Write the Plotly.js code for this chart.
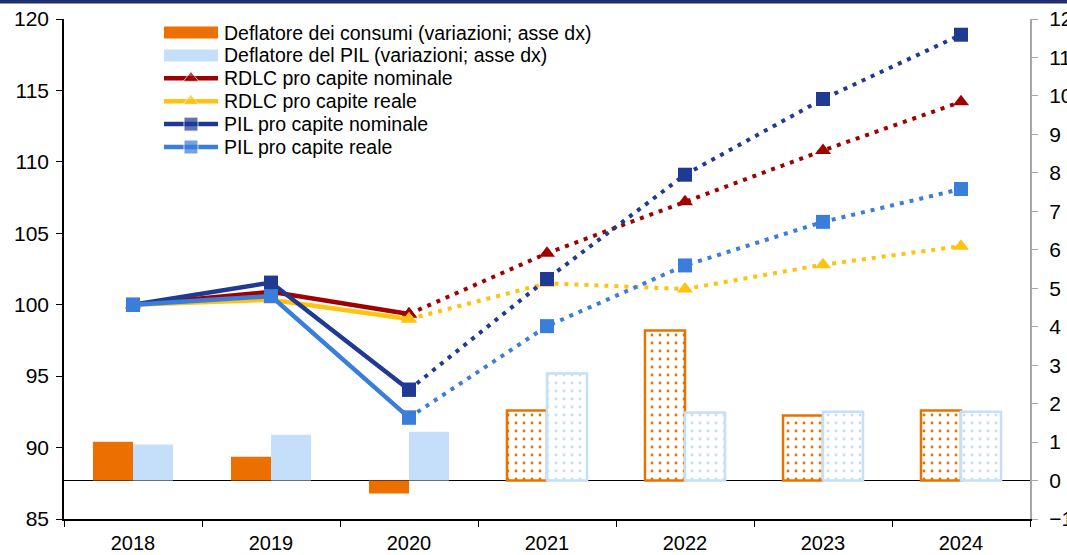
<!DOCTYPE html>
<html>
<head>
<meta charset="utf-8">
<script src="https://cdn.plot.ly/plotly-3.0.1.min.js"></script>
<style>
  body { margin: 0; background: #fff; }
  #myDiv { width: 1067px; height: 555px; }
</style>
</head>
<body>
<div id="myDiv"></div>
<script>
var anni = ['2018', '2019', '2020', '2021', '2022', '2023', '2024'];

// variazioni percentuali (asse dx)
var deflConsumi = [1.01, 0.62, -0.34, 1.82, 3.90, 1.69, 1.82];
var deflPil = [0.94, 1.19, 1.27, 2.78, 1.77, 1.79, 1.79];

// indici 2018=100 (asse sx)
var rdlcNominale = [100, 100.9, 99.35, 103.6, 107.2, 110.8, 114.2];
var rdlcReale = [100, 100.35, 99.0, 101.5, 101.1, 102.8, 104.1];
var pilNominale = [100, 101.55, 94.05, 101.8, 109.1, 114.4, 118.9];
var pilReale = [100, 100.6, 92.1, 98.5, 102.75, 105.8, 108.1];

var nomi = [
  'Deflatore dei consumi (variazioni; asse dx)',
  'Deflatore del PIL (variazioni; asse dx)',
  'RDLC pro capite nominale',
  'RDLC pro capite reale',
  'PIL pro capite nominale',
  'PIL pro capite reale'
];
var colori = ['#EC7000', '#C5DFFA', '#A00000', '#FFC20E', '#1F3A93', '#3A7DDB'];
var simboli = ['', '', 'triangle-up', 'triangle-up', 'square', 'square'];

var nStorico = 3; // 2018-2020 storico, poi previsioni

function barTrace(k, vals){
  var col = colori[k];
  var shapes = [], widths = [];
  for (var i = 0; i < vals.length; i++){
    shapes.push(i < nStorico ? '' : '.');
    widths.push(i < nStorico ? 0 : 2.5);
  }
  return {
    x: anni, y: vals, name: nomi[k], type: 'bar', yaxis: 'y', showlegend: false,
    marker: {
      color: col,
      line: {color: col, width: widths},
      pattern: {shape: shapes, fgcolor: col, bgcolor: '#ffffff', size: 8, solidity: 0.1, fillmode: 'replace'}
    }
  };
}

function lineTraces(k, vals){
  var col = colori[k], sym = simboli[k];
  var solid = {
    x: anni.slice(0, nStorico), y: vals.slice(0, nStorico), name: nomi[k],
    type: 'scatter', mode: 'lines+markers', yaxis: 'y2', showlegend: false,
    line: {color: col, width: 4.5},
    marker: {color: col, symbol: sym, size: 14}
  };
  var dotted = {
    x: anni.slice(nStorico - 1), y: vals.slice(nStorico - 1), name: nomi[k],
    type: 'scatter', mode: 'lines+markers', yaxis: 'y2', showlegend: false,
    line: {color: col, width: 4, dash: '4px,6px'},
    marker: {color: col, symbol: sym, size: 14}
  };
  return [dotted, solid];
}

var data = [barTrace(0, deflConsumi), barTrace(1, deflPil)];
data = data.concat(lineTraces(2, rdlcNominale));
data = data.concat(lineTraces(3, rdlcReale));
data = data.concat(lineTraces(4, pilNominale));
data = data.concat(lineTraces(5, pilReale));

// legenda disegnata a mano (righe piu' strette di quelle di Plotly)
var legX0 = 0.1035, legX1 = 0.1594, legTop = 0.973, legStep = 0.0458;
var annotations = [];
for (var k = 0; k < nomi.length; k++){
  var yy = legTop - k * legStep;
  var isBar = simboli[k] === '';
  data.push({
    x: [legX0, (legX0 + legX1) / 2, legX1], y: [yy, yy, yy],
    xaxis: 'x2', yaxis: 'y3', type: 'scatter',
    mode: isBar ? 'lines' : 'lines+markers',
    line: {color: colori[k], width: isBar ? 12 : 4.5},
    marker: {color: colori[k], symbol: simboli[k] || 'circle', size: [0, 14, 0]},
    showlegend: false, hoverinfo: 'skip'
  });
  annotations.push({
    xref: 'paper', yref: 'paper', x: legX1 + 0.004, y: yy,
    xanchor: 'left', yanchor: 'middle', showarrow: false,
    text: nomi[k],
    font: {family: 'Liberation Sans, Arial, sans-serif', size: 19.5, color: '#000'}
  });
}

var layout = {
  width: 1067,
  height: 555,
  margin: {l: 64, r: 37, t: 19, b: 36, pad: 0},
  paper_bgcolor: '#ffffff',
  plot_bgcolor: '#ffffff',
  font: {family: 'Liberation Sans, Arial, sans-serif', size: 21, color: '#000'},
  barmode: 'group',
  bargap: 0.42,
  bargroupgap: 0,
  showlegend: false,
  xaxis: {
    type: 'category',
    range: [-0.5, 6.5],
    showgrid: false,
    showline: true, linecolor: '#000', linewidth: 1.5,
    ticks: 'outside', tickson: 'boundaries', ticklen: 6, tickcolor: '#000',
    tickfont: {size: 20},
    ticklabelstandoff: 5,
    zeroline: false
  },
  xaxis2: {
    overlaying: 'x', range: [0, 1], visible: false, fixedrange: true
  },
  yaxis: {
    side: 'right',
    range: [-1, 12],
    dtick: 1,
    showgrid: false,
    showline: true, linecolor: '#a6a6a6', linewidth: 2,
    ticks: 'outside', ticklen: 6, tickcolor: '#a6a6a6',
    ticklabelstandoff: 7,
    zeroline: true, zerolinecolor: '#000', zerolinewidth: 1.2
  },
  yaxis2: {
    side: 'left',
    overlaying: 'y',
    range: [85, 120],
    dtick: 5,
    showgrid: false,
    showline: true, linecolor: '#000', linewidth: 1.5,
    ticks: 'outside', ticklen: 6, tickcolor: '#000',
    ticklabelstandoff: 3,
    zeroline: false
  },
  yaxis3: {
    overlaying: 'y', range: [0, 1], visible: false, fixedrange: true
  },
  annotations: annotations,
  shapes: [
    {type: 'line', xref: 'paper', yref: 'paper', x0: -0.1, x1: 1.1, y0: 1.035, y1: 1.035,
     line: {color: '#1F2C6E', width: 4}}
  ]
};

Plotly.newPlot('myDiv', data, layout, {displayModeBar: false});
</script>
</body>
</html>
